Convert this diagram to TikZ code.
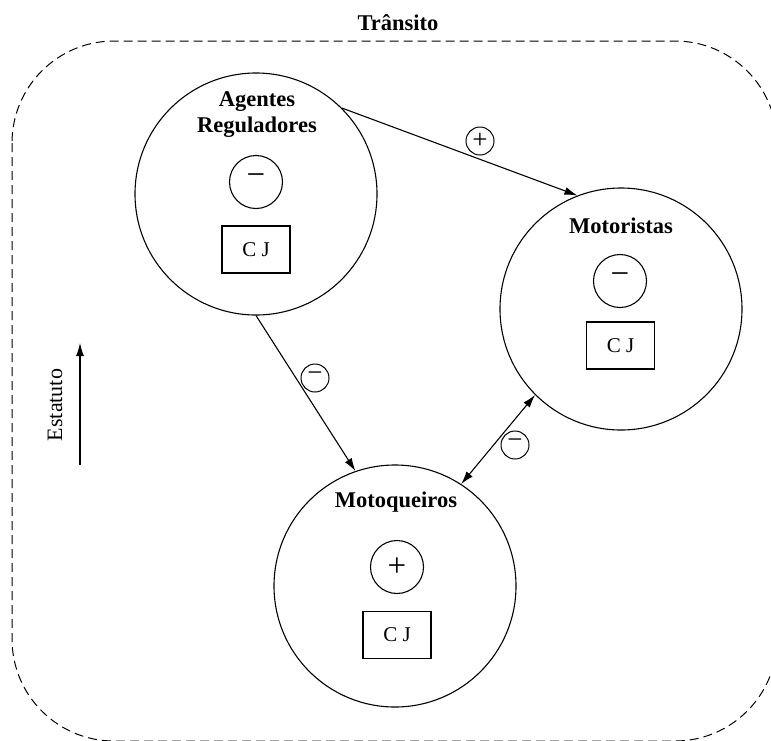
\documentclass[tikz,border=0pt]{standalone}
\usepackage{fontspec}
\setmainfont{Liberation Serif}
\usetikzlibrary{arrows.meta}
\begin{document}
\begin{tikzpicture}[x=1pt,y=-1pt,
  big/.style={circle,draw,line width=1.1pt,minimum size=242pt,inner sep=0pt},
  sign/.style={circle,draw,line width=1.1pt,minimum size=53pt,inner sep=0pt,font=\fontsize{33}{33}\selectfont},
  small/.style={circle,draw,line width=1pt,minimum size=28pt,inner sep=0pt,font=\fontsize{27}{27}\selectfont},
  minus/.style={text height=0.75em,text depth=0pt},
  cj/.style={draw,line width=1.1pt,minimum width=68pt,minimum height=47pt,inner sep=0pt,font=\fontsize{21}{21}\selectfont},
  ttl/.style={font=\bfseries\fontsize{22.5}{26}\selectfont,align=center,inner sep=0pt},
  arr/.style={line width=1.1pt,-{Latex[length=13pt,width=8pt]}},
  dbl/.style={line width=1.1pt,{Latex[length=13pt,width=8pt]}-{Latex[length=13pt,width=8pt]}},
]
\useasboundingbox (0,0) rectangle (771,740);
\begin{scope}
\clip (0,0) rectangle (771,740);
\draw[dash pattern=on 9pt off 5pt, line width=1pt, rounded corners=102pt] (12,41) rectangle (777,741);
\end{scope}

\node[ttl] (title) at (398,23) {Trânsito};

\node[big] (ag) at (256,194) {};
\node[big] (mt) at (621,309) {};
\node[big] (mq) at (395,586) {};

\node[ttl] (agt) at (257,114.5) {Agentes\\Reguladores};
\node[sign,minus] (ags) at (256,182) {−};
\node[cj] (agc) at (256,249.5) {C J};

\node[ttl] (mtt) at (621,226) {Motoristas};
\node[sign,minus] (mts) at (620,281) {−};
\node[cj] (mtc) at (620.5,345.5) {C J};

\node[ttl] (mqt) at (396,502) {Motoqueiros};
\node[sign] (mqs) at (397,567) {+};
\node[cj] (mqc) at (397,635) {C J};

\draw[arr] (ag.45) -- (mt.111);
\draw[arr] (ag.south) -- (mq.109);
\draw[dbl] (mq.57) -- (mt.225);

\node[small] (l1) at (480,141) {+};
\node[small,minus] (l2) at (315,378) {−};
\node[small,minus] (l3) at (515,445) {−};

\coordinate (es1) at (80,465);
\coordinate (es2) at (80,343);
\draw[arr] (es1) -- (es2);
\node[rotate=90,font=\fontsize{22}{22}\selectfont,inner sep=0pt] (est) at (55,405) {Estatuto};
\end{tikzpicture}
\end{document}
